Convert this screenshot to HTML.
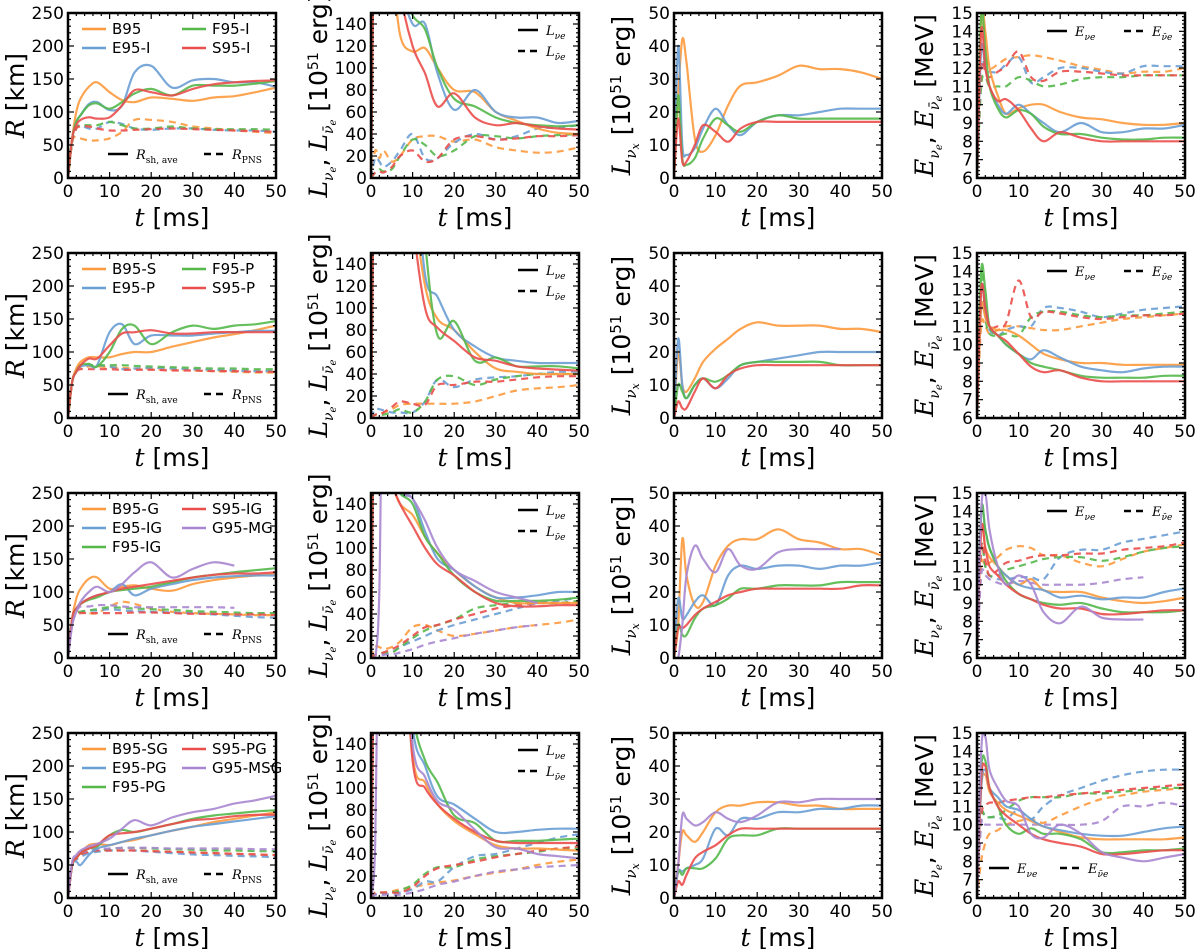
<!DOCTYPE html>
<html><head><meta charset="utf-8">
<style>
html,body{margin:0;padding:0;background:#fff;}
svg{display:block;}
.tk{font-family:"DejaVu Sans","Liberation Sans",sans-serif;font-size:17px;fill:#000;}
.lab{font-family:"DejaVu Sans","Liberation Sans",sans-serif;font-size:25px;fill:#000;}
.it{font-family:"DejaVu Serif","Liberation Serif",serif;font-style:italic;}
.lg{font-family:"DejaVu Sans","Liberation Sans",sans-serif;font-size:15px;fill:#000;}
.lgs{font-family:"DejaVu Serif","Liberation Serif",serif;font-size:13px;fill:#000;}
</style></head>
<body>
<svg id="fig" width="1200" height="949" viewBox="0 0 1200 949" xmlns="http://www.w3.org/2000/svg"></svg>
<script>
// ---- data ----
const T = [0,1,2,3,5,7,10,13,16,20,25,30,35,40,45,50];
const colors = ["#fd9a3e","#6a9fd4","#55b84b","#ea4e4b","#a887d0"];
const xTicks = [0,10,20,30,40,50];
const yTicksR = [0,50,100,150,200,250];
const yTicksL = [0,20,40,60,80,100,120,140];
const yTicksLx = [0,10,20,30,40,50];
const yTicksE = [6,7,8,9,10,11,12,13,14,15];
const names1 = ["B95","E95-I","F95-I","S95-I"];
const names2 = ["B95-S","E95-P","F95-P","S95-P"];
const names3 = ["B95-G","E95-IG","F95-IG","S95-IG","G95-MG"];
const names4 = ["B95-SG","E95-PG","F95-PG","S95-PG","G95-MSG"];

// Row 1
const r1Rsh = [[0,60,100,120,138,145,130,118,115,122,120,117,122,124,130,137],
[0,60,85,95,112,115,103,110,160,170,137,148,150,145,145,138],
[0,60,85,95,110,113,105,115,128,135,125,140,140,140,143,147],
[0,60,80,88,92,90,92,110,133,130,125,135,142,145,147,148]];
const r1Rpns = [[0,55,62,60,57,57,60,70,88,88,85,78,75,72,70,68],
[0,55,75,80,75,75,85,82,75,73,75,75,73,72,72,70],
[0,55,75,80,80,80,85,80,75,75,78,75,74,74,74,73],
[0,55,75,78,78,75,72,72,73,74,75,74,73,72,71,70]];
const r1Le = [[0,300,300,300,200,130,115,118,100,80,78,60,52,45,41,40],
[0,300,300,300,250,180,140,140,95,62,80,60,55,55,50,52],
[0,300,300,300,250,180,148,135,100,72,65,55,50,48,47,48],
[0,300,300,300,250,170,120,95,65,77,55,48,50,47,45,44]];
const r1Lae = [[0,25,18,25,15,20,35,38,38,33,35,28,25,23,24,28],
[0,18,15,10,15,25,40,18,18,32,40,35,38,45,46,48],
[0,5,8,6,8,20,35,30,20,25,38,38,36,38,39,40],
[0,5,6,5,10,20,25,15,18,35,38,35,36,38,38,39]];
const r1Lx = [[0,25,42,35,12,8,13,22,28,29,31,34,33,33,32,30],
[0,40,10,7,9,15,21,16,13,17,19,19,20,21,21,21],
[0,25,6,4,6,12,18,16,14,17,19,18,18,18,18,18],
[0,18,5,5,10,16,14,11,15,17,17,17,17,17,17,17]];
const r1Ee = [[6,15,14,12,10.5,9.5,9.8,10,10,9.6,9.3,9.2,9.0,8.9,8.9,9.0],
[6,13,12,11,10,9.5,10,9.5,9,8.5,9.0,8.5,8.5,8.7,8.7,8.9],
[6,15,13,11,9.8,9.3,9.7,9.5,8.8,8.4,8.4,8.2,8.1,8.1,8.2,8.2],
[6,14,12,11,10.2,10.3,9.7,8.7,8.0,8.5,8.2,8.0,8.0,8.0,8.0,8.0]];
const r1Eae = [[6,14.5,13,12,12.2,12.5,12.6,12.7,12.6,12.4,12.1,11.9,11.7,11.8,11.8,12.0],
[6,12,12,11.8,11.8,12.2,12.6,11.2,11.5,12,12,11.8,11.7,12.1,12.1,12.1],
[6,11,11.5,11,11,11,11.5,11.3,11,11.1,11.4,11.5,11.5,11.6,11.6,11.6],
[6,12,11.8,11.5,11.8,12.1,12.9,11.5,11.3,11.8,11.8,11.7,11.6,11.6,11.6,11.6]];

// Row 2
const r2Rsh = [[0,55,75,85,92,92,92,97,100,100,108,115,122,127,133,140],
[0,55,70,78,80,80,130,142,112,125,125,125,128,130,132,132],
[0,55,70,80,82,78,100,135,140,112,130,140,135,140,142,147],
[0,55,70,80,90,90,110,128,130,133,128,128,130,130,130,130]];
const r2Rpns = [[0,55,72,76,78,78,77,76,75,74,73,72,71,70,69,69],
[0,55,72,78,80,80,78,74,75,76,75,74,73,72,71,71],
[0,55,72,78,80,80,80,80,79,78,77,76,75,75,74,74],
[0,55,70,74,74,74,74,73,73,73,72,72,71,71,70,70]];
const r2Le = [[0,300,300,300,300,300,200,120,90,80,60,45,42,40,40,40],
[0,300,300,300,300,300,250,130,110,80,65,55,52,50,50,50],
[0,300,300,300,300,300,300,160,75,88,52,55,47,47,47,45],
[0,300,300,300,300,300,180,100,82,70,55,52,47,45,44,43]];
const r2Lae = [[0,3,3,5,8,12,13,13,13,13,15,20,25,27,28,30],
[0,8,8,7,5,5,5,15,35,28,35,37,38,40,42,42],
[0,3,3,3,5,8,5,15,35,38,30,35,38,40,40,40],
[0,3,3,5,10,15,13,12,30,30,33,33,35,37,38,38]];
const r2Lx = [[0,20,10,8,12,17,21,24,27,29,28,28,28,27,27,26],
[0,24,10,6,10,12,9,12,16,17,18,19,20,20,20,20],
[0,10,8,6,10,12,11,13,16,17,17,17,17,16,16,16],
[0,5,3,3,8,12,9,13,15,16,16,16,16,16,16,16]];
const r2Ee = [[6,12,11.5,11,10.8,10.8,10.5,10,9.5,9.2,9,9,8.9,8.9,8.9,8.9],
[6,13,12,11,10.5,10,9.5,9.2,9.7,9.3,8.8,8.6,8.5,8.7,8.8,8.8],
[6,14,13,11,10.5,10,9.5,9,8.8,8.6,8.3,8.2,8.2,8.2,8.3,8.3],
[6,13,12,11,10.5,10.2,9.5,8.8,8.5,8.6,8.2,8.0,8.0,8.0,8.0,8.0]];
const r2Eae = [[6,11,11,10.6,10.8,11,11,10.9,10.8,10.8,11,11.2,11.4,11.5,11.6,11.7],
[6,12,11.5,10.8,10.5,10.8,11,11,12,12,11.8,11.5,11.7,11.9,12.0,12.1],
[6,14,11.5,10.6,10.5,10.6,10.5,11.5,11.8,11.8,11.6,11.5,11.6,11.6,11.7,11.8],
[6,13,12,11,11,11.2,13.5,11.5,11.8,11.7,11.5,11.4,11.5,11.6,11.6,11.7]];

// Row 3
const r3Rsh = [[0,60,90,105,120,122,105,108,110,105,102,112,118,122,125,128],
[0,60,75,82,90,95,100,112,95,105,112,118,122,124,125,125],
[0,60,75,82,88,92,100,103,105,108,115,122,126,130,133,136],
[0,60,75,82,90,95,100,105,108,112,117,122,126,128,128,130],
[0,50,70,85,100,108,100,112,130,145,122,135,145,140]];
const r3Rpns = [[0,55,68,70,68,68,78,85,82,75,70,68,67,66,65,65],
[0,55,66,70,72,72,74,72,71,70,69,68,66,64,62,61],
[0,55,66,70,72,74,77,76,75,74,73,71,70,69,68,68],
[0,55,65,68,68,68,68,68,69,69,68,67,67,66,66,65],
[0,50,70,78,78,80,80,78,77,77,77,77,77,76]];
const r3Le = [[0,300,250,200,160,140,130,110,95,80,65,55,50,50,50,50],
[0,300,260,220,180,150,145,115,90,80,65,55,55,57,60,60],
[0,300,250,210,170,150,140,110,95,75,60,52,52,52,53,55],
[0,300,250,200,160,140,120,100,85,75,60,50,47,47,48,48],
[0,0,60,300,250,160,145,125,100,80,70,60,55,50]];
const r3Lae = [[0,10,10,8,10,15,28,30,25,20,22,25,28,30,32,35],
[0,3,3,3,5,10,15,20,25,30,35,40,45,50,52,55],
[0,3,3,5,5,10,18,25,30,35,45,48,50,50,50,52],
[0,3,3,5,8,12,20,28,30,35,40,45,48,50,50,50],
[0,0,0,3,3,5,8,12,15,18,22,25,28,30]];
const r3Lx = [[0,10,36,25,16,17,28,34,36,36,39,36,35,33,33,31],
[0,18,12,13,17,19,16,25,28,27,28,28,27,28,28,29],
[0,10,7,7,12,15,16,18,21,21,22,22,22,23,23,23],
[0,9,9,10,13,15,17,19,20,21,21,21,21,21,22,22],
[0,0,10,25,34,30,26,33,28,27,32,33,33,33]];
const r3Ee = [[6,13,12,11.5,11,10.5,10,10.3,9.7,9.6,9.6,9.3,9.1,9.0,9.1,9.3],
[6,14,13,12,11,10.5,10,9.8,9.7,9.3,9.4,9.2,9.3,9.3,9.6,9.8],
[6,14,13,12,11,10.2,9.5,9.2,9.0,8.9,9.0,8.7,8.5,8.5,8.5,8.6],
[6,13,12,11,10.5,10,9.5,9.2,8.9,8.7,8.7,8.4,8.4,8.5,8.6,8.6],
[6,14,15,13,11,10,10.5,10,8.5,7.9,8.8,8.2,8.1,8.1]];
const r3Eae = [[6,11,11,11.2,11.5,11.9,12.1,12,11.6,11.6,11.2,11.0,11.4,11.8,12,12.2],
[6,12,11,10.5,10.3,10.3,10.4,10.4,10.3,11.5,11.9,11.9,12.3,12.5,12.7,12.9],
[6,12,11,10.5,10.5,10.8,11,11.2,11.4,11.5,11.5,11.3,11.5,11.8,12,12.1],
[6,12,11.3,10.5,10.8,11.2,11.3,11.5,11.6,11.6,11.7,11.7,11.9,12,12.1,12.3],
[6,10.5,10.5,10.3,10.1,10,10.2,10.1,10,10,10,10.1,10.3,10.4]];

// Row 4
const r4Rsh = [[0,50,60,68,80,82,80,85,88,95,102,108,115,120,125,130],
[0,50,55,50,65,75,80,85,90,95,102,108,112,116,120,124],
[0,50,60,68,75,78,95,103,100,105,112,120,125,128,131,133],
[0,50,60,68,75,80,95,98,100,105,112,118,120,124,126,126],
[0,55,65,72,78,82,90,105,118,110,122,130,135,143,148,155]];
const r4Rpns = [[0,50,62,66,70,72,72,72,72,71,70,69,68,67,66,65],
[0,50,58,62,68,70,72,72,72,70,68,66,65,64,63,62],
[0,50,62,68,72,72,74,76,76,75,74,73,72,72,71,71],
[0,50,60,66,70,72,72,72,72,71,70,69,68,67,66,65],
[0,50,62,68,72,74,75,76,76,76,75,75,75,75,74,74]];
const r4Le = [[0,300,300,300,300,300,130,105,85,70,58,48,45,45,44,43],
[0,300,300,300,300,300,155,120,92,85,72,60,60,62,63,63],
[0,300,300,300,300,300,170,125,105,75,68,52,52,52,53,54],
[0,300,300,300,300,300,125,100,85,72,60,52,50,50,50,50],
[0,50,300,300,300,300,140,110,88,80,62,46,45,40,38,36]];
const r4Lae = [[0,5,5,5,6,8,10,12,14,16,20,23,26,30,33,35],
[0,3,3,3,4,5,8,15,15,28,38,40,45,50,55,58],
[0,5,5,5,5,7,12,22,28,28,35,38,40,42,45,45],
[0,5,5,5,5,5,10,20,27,30,33,37,40,43,45,47],
[0,3,3,3,3,3,5,8,12,15,20,24,26,28,29,30]];
const r4Lx = [[0,10,20,19,17,20,26,28,28,29,29,28,28,27,27,27],
[0,8,8,9,10,12,21,19,24,24,26,26,27,27,28,28],
[0,8,7,9,9,9,12,18,19,19,21,21,21,21,21,21],
[0,5,4,7,12,14,16,19,21,21,21,21,21,21,21,21],
[0,10,25,24,22,23,26,24,23,25,29,29,30,30,30,30]];
const r4Ee = [[6,12,12.7,11.8,11.2,10.8,10.5,10.2,9.9,9.6,9.3,9.2,9.2,9.2,9.2,9.3],
[6,12,13,12,11.5,11,10.8,10.3,9.9,9.7,9.5,9.4,9.4,9.6,9.8,9.9],
[6,13,13.5,12,11,10,9.5,9.8,9.5,9.5,9.2,8.5,8.5,8.6,8.6,8.7],
[6,12.5,13.2,12,11,10.5,10,9.5,9.2,9.0,8.8,8.4,8.4,8.5,8.6,8.6],
[6,14,14.8,13,12,11.3,11,9.5,9.3,10,9.5,8.5,8.2,8.0,8.2,8.4]];
const r4Eae = [[6,8,9,9.5,9.7,10,10.2,10.3,10.1,10.5,11,11.4,11.6,11.8,11.9,12],
[6,10.4,10.4,10.4,10.4,10.3,10.8,10.3,11,11.6,12,12.4,12.7,12.9,13,13],
[6,10.4,10.4,10.4,10.5,10.8,11.3,11.5,11.5,11.5,11.7,11.7,11.8,11.9,12,12],
[6,10.4,11,11.2,11.2,11.3,11.4,11.5,11.5,11.6,11.7,11.8,11.9,12,12.1,12.2],
[6,10,10,10,10,10,10,10,10,10,10,10.2,11,11,11.2,11]];

// ---- layout ----
const NS = "http://www.w3.org/2000/svg";
const svg = document.getElementById('fig');
const colX = [68,371,674,977];
const rowY = [13,253,493,733];
const W = 208, H = 165;

function mk(tag, attrs, parent){
  const e = document.createElementNS(NS, tag);
  for (const k in attrs) e.setAttribute(k, attrs[k]);
  (parent||svg).appendChild(e);
  return e;
}
function smoothPath(pts){
  if (pts.length < 2) return "";
  let d = "M" + pts[0][0].toFixed(1) + "," + pts[0][1].toFixed(1);
  for (let i=0;i<pts.length-1;i++){
    const p0 = pts[Math.max(0,i-1)], p1 = pts[i], p2 = pts[i+1], p3 = pts[Math.min(pts.length-1,i+2)];
    const c1x = p1[0]+(p2[0]-p0[0])/6, c1y = p1[1]+(p2[1]-p0[1])/6;
    const c2x = p2[0]-(p3[0]-p1[0])/6, c2y = p2[1]-(p3[1]-p1[1])/6;
    d += "C"+c1x.toFixed(1)+","+c1y.toFixed(1)+" "+c2x.toFixed(1)+","+c2y.toFixed(1)+" "+p2[0].toFixed(1)+","+p2[1].toFixed(1);
  }
  return d;
}

let clipId = 0;
function panel(r, c, ymin, ymax, yticks, solid, dashed, kind){
  const x0 = colX[c], y0 = rowY[r];
  const g = mk('g', {});
  
  
  const xs = t => x0 + t/50*W;
  const ys = v => y0 + H - (v-ymin)/(ymax-ymin)*H;
  const id = 'clip'+(clipId++);
  const cp = mk('clipPath', {id:id}, g);
  mk('rect', {x:x0, y:y0, width:W, height:H}, cp);
  const lines = mk('g', {'clip-path':'url(#'+id+')'}, g);
  
  
  function draw(arr, dash, label){
    arr.forEach((vals, i) => {
      const pts = vals.map((v,j)=>[xs(T[j]), ys(v)]);
      const p = mk('path', {d:smoothPath(pts), fill:'none', stroke:colors[i], 'stroke-width':2.2, 'stroke-opacity':0.9, 'stroke-linejoin':'round'}, lines);
      if (dash) p.setAttribute('stroke-dasharray', '7,5');
      
      
    });
  }
  draw(dashed, true, 'dashed');
  draw(solid, false, 'solid');
  const fr = mk('rect', {x:x0, y:y0, width:W, height:H, fill:'none', stroke:'#000', 'stroke-width':2.5}, g);
  
  
  const tg = mk('g', {stroke:'#000', 'stroke-width':1.2}, g);
  
  
  for (let t=0;t<=50;t+=2){
    const X = xs(t), L = (t%10===0)?6:3;
    mk('line', {x1:X, x2:X, y1:y0+H, y2:y0+H-L}, tg);
    mk('line', {x1:X, x2:X, y1:y0, y2:y0+L}, tg);
  }
  const step = yticks[1]-yticks[0];
  for (let v=ymin; v<=ymax+1e-9; v+=step/5){
    const Y = ys(v);
    const major = Math.abs(((v-ymin)/step) - Math.round((v-ymin)/step)) < 1e-6;
    const L = major?6:3;
    mk('line', {x1:x0, x2:x0+L, y1:Y, y2:Y}, tg);
    mk('line', {x1:x0+W, x2:x0+W-L, y1:Y, y2:Y}, tg);
  }
  xTicks.forEach(t=>{
    const e = mk('text', {x:xs(t), y:y0+H+19, 'text-anchor':'middle', class:'tk'}, g);
    e.textContent = t;
    
    
  });
  yticks.forEach(v=>{
    const e = mk('text', {x:x0-4, y:ys(v)+6, 'text-anchor':'end', class:'tk'}, g);
    e.textContent = v;
    
    
  });
  const xl = mk('text', {x:x0+W/2, y:y0+H+48, 'text-anchor':'middle', class:'lab'}, g);
  xl.innerHTML = '<tspan class="it">t</tspan> [ms]';
  
  
  const yx = x0-44, yy = y0+H/2;
  const yl = mk('text', {x:yx, y:yy, transform:'rotate(-90 '+yx+' '+yy+')', 'text-anchor':'middle', class:'lab'}, g);
  if (kind==='R') yl.innerHTML = '<tspan class="it">R</tspan> [km]';
  if (kind==='L') { yl.setAttribute('font-size','22'); yl.innerHTML = '<tspan class="it">L</tspan><tspan class="it" font-size="14" dy="6">ν</tspan><tspan class="it" font-size="10" dy="3">e</tspan><tspan dy="-9">, </tspan><tspan class="it">L</tspan><tspan class="it" font-size="14" dy="6">ν̄</tspan><tspan class="it" font-size="10" dy="3">e</tspan><tspan dy="-9"> [10</tspan><tspan font-size="14" dy="-9">51</tspan><tspan dy="9"> erg]</tspan>'; }
  if (kind==='Lx') yl.innerHTML = '<tspan class="it">L</tspan><tspan class="it" font-size="15" dy="6">ν</tspan><tspan class="it" font-size="11" dy="3">x</tspan><tspan dy="-9">  [10</tspan><tspan font-size="15" dy="-9">51</tspan><tspan dy="9"> erg]</tspan>';
  if (kind==='E') { yl.setAttribute('font-size','23'); yl.innerHTML = '<tspan class="it">E</tspan><tspan class="it" font-size="14" dy="6">ν</tspan><tspan class="it" font-size="10" dy="3">e</tspan><tspan dy="-9">, </tspan><tspan class="it">E</tspan><tspan class="it" font-size="14" dy="6">ν̄</tspan><tspan class="it" font-size="10" dy="3">e</tspan><tspan dy="-9"> [MeV]</tspan>'; }
  
  
  return {g, x0, y0};
}

function colorLegend(p, names){
  const lg = mk('g', {}, p.g);
  
  
  const leftN = names.length===5?3:2;
  names.forEach((n,i)=>{
    const col = i<leftN?0:1, row = i<leftN?i:i-leftN;
    const lx = p.x0 + 14 + col*100, ly = p.y0 + 16 + row*19;
    mk('line', {x1:lx, x2:lx+24, y1:ly, y2:ly, stroke:colors[i], 'stroke-width':2.4}, lg);
    const t = mk('text', {x:lx+30, y:ly+5, class:'lg'}, lg);
    t.textContent = n;
    
    
  });
}
function styleLegendH(p, ly, lx1, lx2, a, b){
  const lg = mk('g', {}, p.g);
  
  
  mk('line', {x1:lx1, x2:lx1+20, y1:ly, y2:ly, stroke:'#000', 'stroke-width':2.4}, lg);
  const t1 = mk('text', {x:lx1+28, y:ly+5, class:'lgs'}, lg); t1.innerHTML = a;
  mk('line', {x1:lx2, x2:lx2+20, y1:ly, y2:ly, stroke:'#000', 'stroke-width':2.4, 'stroke-dasharray':'7,5'}, lg);
  const t2 = mk('text', {x:lx2+28, y:ly+5, class:'lgs'}, lg); t2.innerHTML = b;
}
function styleLegendV(p){
  const lg = mk('g', {}, p.g);
  
  
  const lx = p.x0+147;
  mk('line', {x1:lx, x2:lx+20, y1:p.y0+17, y2:p.y0+17, stroke:'#000', 'stroke-width':2.4}, lg);
  const t1 = mk('text', {x:lx+28, y:p.y0+22, class:'lgs'}, lg);
  t1.innerHTML = '<tspan font-style="italic">L</tspan><tspan font-size="9" dy="4" font-style="italic">νe</tspan>';
  mk('line', {x1:lx, x2:lx+20, y1:p.y0+38, y2:p.y0+38, stroke:'#000', 'stroke-width':2.4, 'stroke-dasharray':'7,5'}, lg);
  const t2 = mk('text', {x:lx+28, y:p.y0+43, class:'lgs'}, lg);
  t2.innerHTML = '<tspan font-style="italic">L</tspan><tspan font-size="9" dy="4" font-style="italic">ν̄e</tspan>';
}
const RshTxt = '<tspan font-style="italic">R</tspan><tspan font-size="9" dy="4">sh, ave</tspan>';
const RpnsTxt = '<tspan font-style="italic">R</tspan><tspan font-size="9" dy="4">PNS</tspan>';
const EeTxt = '<tspan font-style="italic">E</tspan><tspan font-size="9" dy="4" font-style="italic">νe</tspan>';
const EaeTxt = '<tspan font-style="italic">E</tspan><tspan font-size="9" dy="4" font-style="italic">ν̄e</tspan>';

const rows = [
  [names1, r1Rsh, r1Rpns, r1Le, r1Lae, r1Lx, r1Ee, r1Eae],
  [names2, r2Rsh, r2Rpns, r2Le, r2Lae, r2Lx, r2Ee, r2Eae],
  [names3, r3Rsh, r3Rpns, r3Le, r3Lae, r3Lx, r3Ee, r3Eae],
  [names4, r4Rsh, r4Rpns, r4Le, r4Lae, r4Lx, r4Ee, r4Eae]
];
rows.forEach((d, r)=>{
  const p1 = panel(r, 0, 0, 250, yTicksR, d[1], d[2], 'R');
  colorLegend(p1, d[0]);
  styleLegendH(p1, p1.y0+H-24, p1.x0+40, p1.x0+136, RshTxt, RpnsTxt);
  const p2 = panel(r, 1, 0, 150, yTicksL, d[3], d[4], 'L');
  styleLegendV(p2);
  panel(r, 2, 0, 50, yTicksLx, d[5], [], 'Lx');
  const p4 = panel(r, 3, 6, 15, yTicksE, d[6], d[7], 'E');
  if (r<3) styleLegendH(p4, p4.y0+18, p4.x0+70, p4.x0+147, EeTxt, EaeTxt);
  else styleLegendH(p4, p4.y0+H-30, p4.x0+12, p4.x0+83, EeTxt, EaeTxt);
});
</script>
</body></html>
